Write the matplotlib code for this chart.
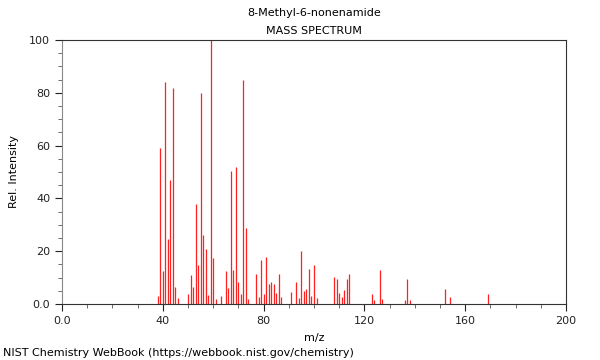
import matplotlib
matplotlib.use("Agg")
import matplotlib.pyplot as plt
from matplotlib.ticker import MultipleLocator, FuncFormatter

# peaks (m/z, relative intensity)
mz = [38, 39, 40, 41, 42, 43, 44, 45, 46,
      50, 51, 52, 53, 54, 55, 56, 57, 58, 59, 60, 61, 63,
      65, 66, 67, 68, 69, 70, 71, 72, 73, 74,
      77, 78, 79, 80, 81, 82, 83, 84, 85, 86, 87,
      91, 93, 94, 95, 96, 97, 98, 99, 100, 101,
      108, 109, 110, 111, 112, 113, 114,
      123, 124, 126, 127, 136, 137, 138,
      152, 154, 169]
inten = [3.1, 59.2, 12.4, 84.0, 24.6, 47.0, 81.7, 6.6, 2.4,
         3.7, 11.0, 6.4, 38.0, 14.8, 80.0, 26.0, 21.0, 3.3, 100.0, 17.3, 1.9, 2.9,
         12.4, 6.0, 50.5, 12.9, 52.0, 8.5, 3.8, 84.8, 28.8, 1.9,
         11.2, 2.8, 16.7, 3.7, 17.7, 7.6, 8.3, 7.6, 4.3, 11.5, 2.5,
         4.4, 8.3, 2.4, 20.0, 4.9, 5.7, 13.1, 3.2, 14.8, 2.4,
         10.2, 9.3, 4.0, 2.8, 5.3, 9.3, 11.2,
         3.7, 1.5, 12.9, 1.9, 1.6, 9.5, 1.5,
         5.7, 2.7, 3.9]

fig = plt.figure(figsize=(6, 3.6), dpi=100)
ax = fig.add_axes([0.1033, 0.1556, 0.84, 0.7333])

ax.vlines(mz, 0, inten, colors="#ff2020", linewidth=0.9)

ax.set_xlim(0, 200)
ax.set_ylim(0, 100)
ax.xaxis.set_major_locator(MultipleLocator(40))
ax.xaxis.set_minor_locator(MultipleLocator(10))
ax.yaxis.set_major_locator(MultipleLocator(20))
ax.yaxis.set_minor_locator(MultipleLocator(5))
fmt = FuncFormatter(lambda v, p: "0.0" if v == 0 else "%d" % v)
ax.xaxis.set_major_formatter(fmt)
ax.yaxis.set_major_formatter(fmt)
ax.tick_params(which="major", length=5, width=0.8, labelsize=8, colors="#222222")
ax.tick_params(which="minor", length=3, width=0.6, colors="#555555")

for s in ["top", "right", "bottom"]:
    ax.spines[s].set_color("#333333")
    ax.spines[s].set_linewidth(0.8)
ax.spines["left"].set_color("#888888")
ax.spines["left"].set_linewidth(0.8)

ax.set_xlabel("m/z", fontsize=8)
ax.set_ylabel("Rel. Intensity", fontsize=8)
ax.yaxis.set_label_coords(-0.085, 0.5)
ax.xaxis.set_label_coords(0.5, -0.11)

fig.text(0.523, 0.963, "8-Methyl-6-nonenamide", ha="center", va="center", fontsize=8)
fig.text(0.523, 0.915, "MASS SPECTRUM", ha="center", va="center", fontsize=8)
fig.text(0.005, 0.02, "NIST Chemistry WebBook (https://webbook.nist.gov/chemistry)",
         ha="left", va="center", fontsize=8)

fig.savefig("out.png", dpi=100)
